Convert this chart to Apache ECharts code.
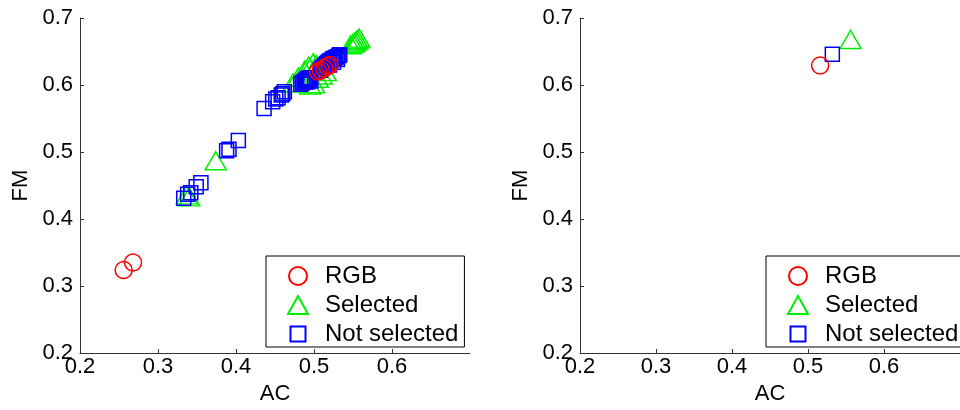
<!DOCTYPE html>
<html>
<head>
<meta charset="utf-8">
<script src="https://cdn.jsdelivr.net/npm/echarts@6/dist/echarts.min.js"></script>
<style>
html,body{margin:0;padding:0;background:#fff;}
#c{width:960px;height:410px;}
</style>
</head>
<body>
<div id="c"></div>
<script>
// ---- data (AC, FM) ----
var seriesNames = ['RGB', 'Selected', 'Not selected'];
var xTicks = [0.2, 0.3, 0.4, 0.5, 0.6];
var yTicks = [0.2, 0.3, 0.4, 0.5, 0.6, 0.7];

var rgbLeft = [[0.256,0.324],[0.268,0.335],[0.505,0.620],[0.509,0.622],[0.513,0.625],[0.517,0.628],[0.520,0.630]];
var selectedLeft = [[0.337,0.436],[0.340,0.433],[0.374,0.487],
  [0.473,0.603],[0.480,0.612],[0.488,0.622],[0.493,0.628],[0.499,0.633],[0.503,0.630],
  [0.495,0.600],[0.500,0.602],[0.505,0.610],[0.510,0.615],[0.515,0.620],
  [0.547,0.660],[0.550,0.662],[0.552,0.664],[0.554,0.666],[0.556,0.668],[0.558,0.670]];
var notSelectedLeft = [[0.333,0.431],[0.338,0.437],[0.342,0.439],[0.349,0.448],[0.355,0.454],
  [0.388,0.502],[0.391,0.504],[0.403,0.517],
  [0.436,0.565],[0.447,0.575],[0.451,0.579],[0.454,0.581],[0.458,0.585],[0.460,0.587],[0.462,0.590],
  [0.483,0.601],[0.485,0.603],[0.486,0.604],[0.488,0.606],[0.489,0.604],[0.490,0.607],[0.491,0.609],
  [0.492,0.605],[0.493,0.610],[0.494,0.608],[0.495,0.611],[0.496,0.606],
  [0.508,0.622],[0.510,0.625],[0.512,0.627],[0.514,0.630],[0.516,0.632],[0.518,0.634],[0.520,0.636],
  [0.522,0.637],[0.524,0.639],[0.526,0.640],[0.528,0.641],[0.530,0.642],[0.532,0.644],[0.533,0.645],
  [0.520,0.630],[0.525,0.634],[0.530,0.638]];

var rgbRight = [[0.516,0.629]];
var selectedRight = [[0.556,0.668]];
var notSelectedRight = [[0.532,0.646]];

// ---- styling ----
var FONT = 'Liberation Sans, Arial, Helvetica, sans-serif';
var colors = ['#ff0000', '#00ee00', '#0000ff'];
var symbols = ['circle', 'triangle', 'rect'];
var symSizes = [17, [21, 18], 14];
var legendIcons = ['circle', 'triangle', 'path://M0,0M18,18M1.5,1.5H16.5V16.5H1.5Z'];
var zs = [4, 2, 3];

function xAxisFor(gi) {
  return {
    gridIndex: gi, type: 'value', min: 0.2, max: 0.7, interval: 0.1,
    name: 'AC', nameLocation: 'middle', nameGap: 30,
    nameTextStyle: {fontSize: 22, fontFamily: FONT, color: '#000'},
    axisLine: {show: true, onZero: false, lineStyle: {color: '#333', width: 1}},
    axisTick: {show: true, inside: true, length: 4, lineStyle: {color: '#333'}, customValues: xTicks},
    axisLabel: {fontSize: 22, fontFamily: FONT, color: '#000', margin: 3, customValues: xTicks,
      formatter: function (v) { return v.toFixed(1); }},
    splitLine: {show: false}
  };
}
function yAxisFor(gi) {
  return {
    gridIndex: gi, type: 'value', min: 0.2, max: 0.7, interval: 0.1,
    name: 'FM', nameLocation: 'middle', nameGap: 48,
    nameTextStyle: {fontSize: 22, fontFamily: FONT, color: '#000'},
    axisLine: {show: true, onZero: false, lineStyle: {color: '#333', width: 1}},
    axisTick: {show: true, inside: true, length: 4, lineStyle: {color: '#333'}, customValues: yTicks},
    axisLabel: {fontSize: 22, fontFamily: FONT, color: '#000', margin: 7, customValues: yTicks,
      formatter: function (v) { return v.toFixed(1); }},
    splitLine: {show: false}
  };
}
function legendFor(left) {
  return {
    orient: 'vertical', left: left, top: 256,
    data: seriesNames.map(function (n, i) { return {name: n, icon: legendIcons[i]}; }),
    itemWidth: 20, itemHeight: 18, itemGap: 5,
    padding: [8, 6, 1, 21],
    borderColor: '#000', borderWidth: 1, backgroundColor: '#fff',
    selectedMode: false,
    textStyle: {fontSize: 24, fontFamily: FONT, color: '#000', lineHeight: 24, padding: [0, 0, 0, 12]}
  };
}
function scatter(name, i, data, gi) {
  return {
    type: 'scatter', name: name, xAxisIndex: gi, yAxisIndex: gi, data: data,
    symbol: symbols[i], symbolSize: symSizes[i], z: zs[i],
    itemStyle: {color: 'rgba(0,0,0,0)', borderColor: colors[i], borderWidth: 1.5, opacity: 1},
    emphasis: {disabled: true}, animation: false
  };
}

var leftSets = [rgbLeft, selectedLeft, notSelectedLeft];
var rightSets = [rgbRight, selectedRight, notSelectedRight];
var series = [];
seriesNames.forEach(function (n, i) { series.push(scatter(n, i, leftSets[i], 0)); });
seriesNames.forEach(function (n, i) { series.push(scatter(n, i, rightSets[i], 1)); });

var chart = echarts.init(document.getElementById('c'), null, {renderer: 'canvas'});
chart.setOption({
  animation: false,
  backgroundColor: '#fff',
  grid: [
    {left: 80, top: 18, width: 390, height: 337},
    {left: 580, top: 18, width: 390, height: 337}
  ],
  xAxis: [xAxisFor(0), xAxisFor(1)],
  yAxis: [yAxisFor(0), yAxisFor(1)],
  legend: [legendFor(266), legendFor(766)],
  series: series
});
</script>
</body>
</html>
